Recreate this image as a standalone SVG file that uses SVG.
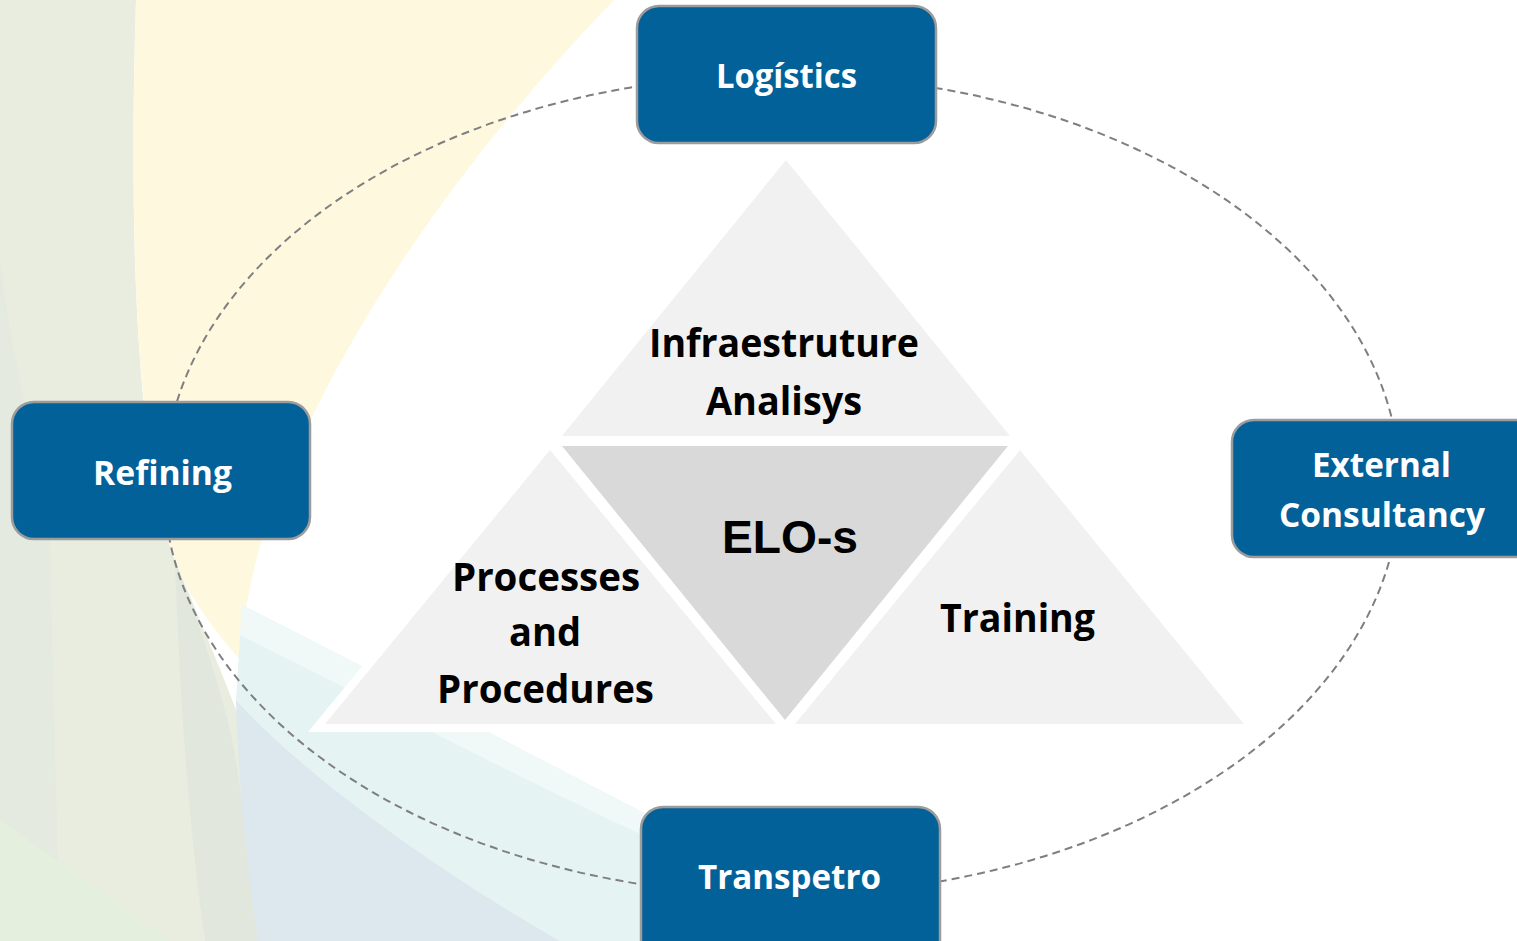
<svg xmlns="http://www.w3.org/2000/svg" xmlns:xlink="http://www.w3.org/1999/xlink" width="1517" height="941" viewBox="0 0 1517 941">
<style>
.box{fill:#03619A;stroke:#9C9C9C;stroke-width:2.5}
.nt{font-family:"Open Sans","Noto Sans","Liberation Sans",sans-serif;font-weight:700;font-size:34px;fill:#FFFFFF;text-anchor:middle}
.tt{font-family:"Open Sans","Noto Sans","Liberation Sans",sans-serif;font-weight:700;font-size:40px;fill:#000000;text-anchor:middle}
.elo{font-family:"Liberation Sans",Arial,sans-serif;font-weight:700;font-size:46px;fill:#000000;text-anchor:middle}
.tri{fill:#F1F1F1}
.halo{fill:#FFFFFF;stroke:#FFFFFF;stroke-width:16;stroke-linejoin:miter}
.ring{fill:none;stroke:#7F7F7F;stroke-width:2;stroke-dasharray:8 5}
</style>
<defs>
<polygon id="tTop" points="786,160 1010,436 562,436"/>
<polygon id="tLeft" points="550,450 776,724 325,724"/>
<polygon id="tRight" points="1020,450 1244,724 795,724"/>
<polygon id="tMid" points="562,446 1008,446 785,720"/>
</defs>
<rect x="0" y="0" width="1517" height="941" fill="#FFFFFF"/>
<g id="background">
<path d="M0,0 L136,0 C128,250 138,470 175,560 C200,620 225,680 240,720 L290,941 L0,941 Z" fill="#E8EDE0"/>
<path d="M136,0 L614,0 C450,170 330,350 268,520 C252,570 244,610 240,660 C215,630 190,600 175,560 C138,460 128,250 136,0 Z" fill="#FEF8DF"/>
<path d="M0,260 C12,360 30,430 48,480 L60,941 L0,941 Z" fill="#E4EADF"/>
<path d="M175,560 C205,640 225,700 236,760 L262,941 L205,941 C188,820 180,700 175,560 Z" fill="#E1E7DC"/>
<path d="M0,820 L0,941 L170,941 Z" fill="#E5EFDD"/>
<path d="M242,605 C400,685 560,770 720,852 L720,941 L560,941 C420,860 300,770 236,700 Z" fill="#E6F3F3"/>
<path d="M242,605 C400,685 560,770 720,852 L720,870 C560,800 400,715 240,635 Z" fill="#F1F8F8"/>
<path d="M236,700 C300,770 420,860 560,941 L258,941 C246,860 238,780 236,700 Z" fill="#DDE7EE"/>
</g>
<g id="connectors">
<ellipse class="ring" cx="782" cy="485" rx="618" ry="410"/>
</g>
<g id="triangles">
<use xlink:href="#tTop" class="halo"/>
<use xlink:href="#tLeft" class="halo"/>
<use xlink:href="#tRight" class="halo"/>
<use xlink:href="#tMid" class="halo"/>
</g>
<g id="infraestruture">
<use xlink:href="#tTop" class="tri"/>
<text class="tt" x="784" y="357" textLength="270" lengthAdjust="spacingAndGlyphs">Infraestruture</text>
<text class="tt" x="784" y="415" textLength="156" lengthAdjust="spacingAndGlyphs">Analisys</text>
</g>
<g id="processes">
<use xlink:href="#tLeft" class="tri"/>
<text class="tt" x="546" y="591" textLength="188" lengthAdjust="spacingAndGlyphs">Processes</text>
<text class="tt" x="545" y="646" textLength="72" lengthAdjust="spacingAndGlyphs">and</text>
<text class="tt" x="545.5" y="703" textLength="217" lengthAdjust="spacingAndGlyphs">Procedures</text>
</g>
<g id="training">
<use xlink:href="#tRight" class="tri"/>
<text class="tt" x="1017.5" y="632" textLength="155" lengthAdjust="spacingAndGlyphs">Training</text>
</g>
<g id="elos">
<use xlink:href="#tMid" fill="#D9D9D9"/>
<text class="elo" x="790" y="553" textLength="136" lengthAdjust="spacingAndGlyphs">ELO-s</text>
</g>
<g id="logistics">
<rect class="box" x="637" y="6" width="299" height="137" rx="22"/>
<text class="nt" x="786.5" y="88" textLength="141" lengthAdjust="spacingAndGlyphs">Logístics</text>
</g>
<g id="refining">
<rect class="box" x="12" y="402" width="298" height="137" rx="22"/>
<text class="nt" x="162.5" y="485" textLength="139" lengthAdjust="spacingAndGlyphs">Refining</text>
</g>
<g id="external">
<rect class="box" x="1232" y="420" width="310" height="137" rx="22"/>
<text class="nt" x="1381.5" y="477" textLength="139" lengthAdjust="spacingAndGlyphs">External</text>
<text class="nt" x="1382" y="527" textLength="206" lengthAdjust="spacingAndGlyphs">Consultancy</text>
</g>
<g id="transpetro">
<rect class="box" x="641" y="807" width="299" height="160" rx="22"/>
<text class="nt" x="789.5" y="889" textLength="183" lengthAdjust="spacingAndGlyphs">Transpetro</text>
</g>
</svg>
